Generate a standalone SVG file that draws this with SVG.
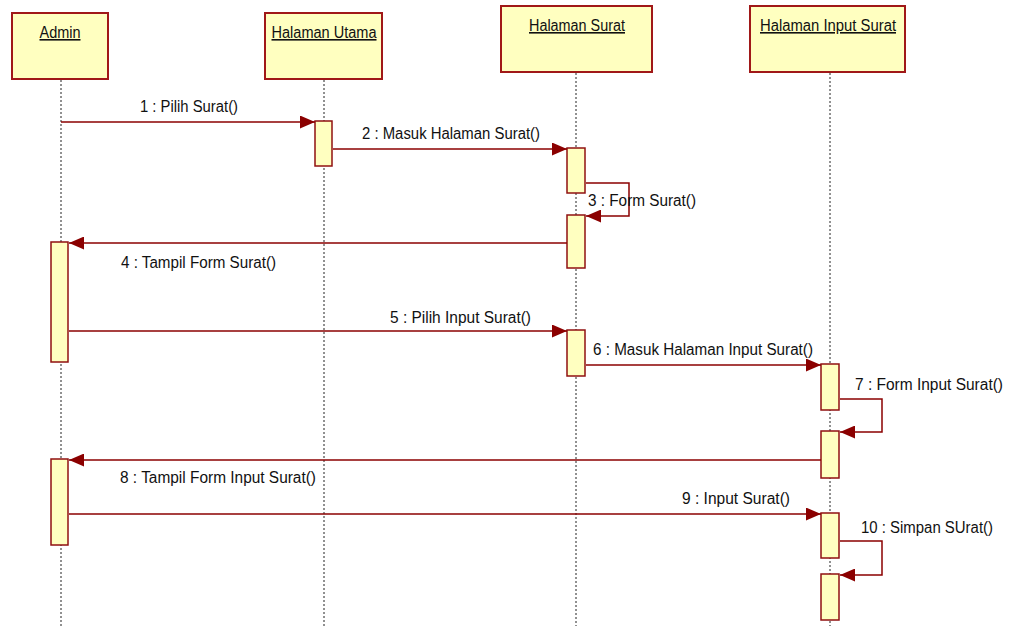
<svg xmlns="http://www.w3.org/2000/svg" width="1011" height="626" viewBox="0 0 1011 626">
<style>
.obj{fill:#FFFFC0;stroke:#A01818;stroke-width:2}
.act{fill:#FFFFC0;stroke:#901010;stroke-width:1.5}
.life{stroke:#222;stroke-width:1;stroke-dasharray:2,2;fill:none}
.msg{stroke:#8B0000;stroke-width:1.5;fill:none;marker-end:url(#ah)}
.t{font-family:"Liberation Sans",Arial,sans-serif;font-size:16px;fill:#111}
.h{text-decoration:underline;text-anchor:middle}
</style>
<defs>
<marker id="ah" markerWidth="15" markerHeight="13" refX="15" refY="6.5" orient="auto" markerUnits="userSpaceOnUse">
<path d="M0,0 L15,6.5 L0,13 Z" fill="#8B0000"/>
</marker>
</defs>
<rect width="1011" height="626" fill="#fff"/>
<g id="lifelines">
<line class="life" x1="61" y1="80" x2="61" y2="626"/>
<line class="life" x1="324" y1="80" x2="324" y2="626"/>
<line class="life" x1="576" y1="73" x2="576" y2="626"/>
<line class="life" x1="830" y1="73" x2="830" y2="626"/>
</g>
<g id="admin">
<rect class="obj" x="12" y="13" width="96" height="66"/>
<text class="t h" x="60" y="38" textLength="41" lengthAdjust="spacingAndGlyphs">Admin</text>
</g>
<g id="halaman-utama">
<rect class="obj" x="265" y="13" width="117" height="66"/>
<text class="t h" x="324" y="38" textLength="105" lengthAdjust="spacingAndGlyphs">Halaman Utama</text>
</g>
<g id="halaman-surat">
<rect class="obj" x="501" y="6" width="151" height="66"/>
<text class="t h" x="577" y="31" textLength="96" lengthAdjust="spacingAndGlyphs">Halaman Surat</text>
</g>
<g id="halaman-input-surat">
<rect class="obj" x="750" y="6" width="155" height="66"/>
<text class="t h" x="828" y="31" textLength="136" lengthAdjust="spacingAndGlyphs">Halaman Input Surat</text>
</g>
<g id="activations">
<rect class="act" x="315" y="121" width="17" height="45"/>
<rect class="act" x="567" y="148" width="18" height="45"/>
<rect class="act" x="567" y="215" width="18" height="53"/>
<rect class="act" x="51" y="242" width="17" height="120"/>
<rect class="act" x="567" y="330" width="18" height="46"/>
<rect class="act" x="821" y="364" width="18" height="46"/>
<rect class="act" x="821" y="431" width="18" height="47"/>
<rect class="act" x="51" y="459" width="17" height="86"/>
<rect class="act" x="821" y="513" width="18" height="45"/>
<rect class="act" x="821" y="574" width="18" height="46"/>
</g>
<g id="connectors">
<line class="msg" x1="61" y1="122" x2="315" y2="122"/>
<line class="msg" x1="333" y1="149" x2="567" y2="149"/>
<polyline class="msg" points="586,183 629,183 629,216 586,216"/>
<line class="msg" x1="567" y1="243" x2="69" y2="243"/>
<line class="msg" x1="69" y1="331" x2="567" y2="331"/>
<line class="msg" x1="586" y1="365" x2="821" y2="365"/>
<polyline class="msg" points="840,399 882,399 882,432 840,432"/>
<line class="msg" x1="821" y1="460" x2="69" y2="460"/>
<line class="msg" x1="69" y1="514" x2="821" y2="514"/>
<polyline class="msg" points="840,541 882,541 882,575 840,575"/>
</g>
<g id="labels">
<text class="t" x="140" y="112" textLength="98" lengthAdjust="spacingAndGlyphs">1 : Pilih Surat()</text>
<text class="t" x="362" y="139" textLength="178" lengthAdjust="spacingAndGlyphs">2 : Masuk Halaman Surat()</text>
<text class="t" x="588" y="206" textLength="108" lengthAdjust="spacingAndGlyphs">3 : Form Surat()</text>
<text class="t" x="121" y="268" textLength="155" lengthAdjust="spacingAndGlyphs">4 : Tampil Form Surat()</text>
<text class="t" x="390" y="323" textLength="141" lengthAdjust="spacingAndGlyphs">5 : Pilih Input Surat()</text>
<text class="t" x="593" y="355" textLength="220" lengthAdjust="spacingAndGlyphs">6 : Masuk Halaman Input Surat()</text>
<text class="t" x="855" y="390" textLength="148" lengthAdjust="spacingAndGlyphs">7 : Form Input Surat()</text>
<text class="t" x="120" y="483" textLength="196" lengthAdjust="spacingAndGlyphs">8 : Tampil Form Input Surat()</text>
<text class="t" x="682" y="504" textLength="108" lengthAdjust="spacingAndGlyphs">9 : Input Surat()</text>
<text class="t" x="861" y="533" textLength="132" lengthAdjust="spacingAndGlyphs">10 : Simpan SUrat()</text>
</g>
</svg>
